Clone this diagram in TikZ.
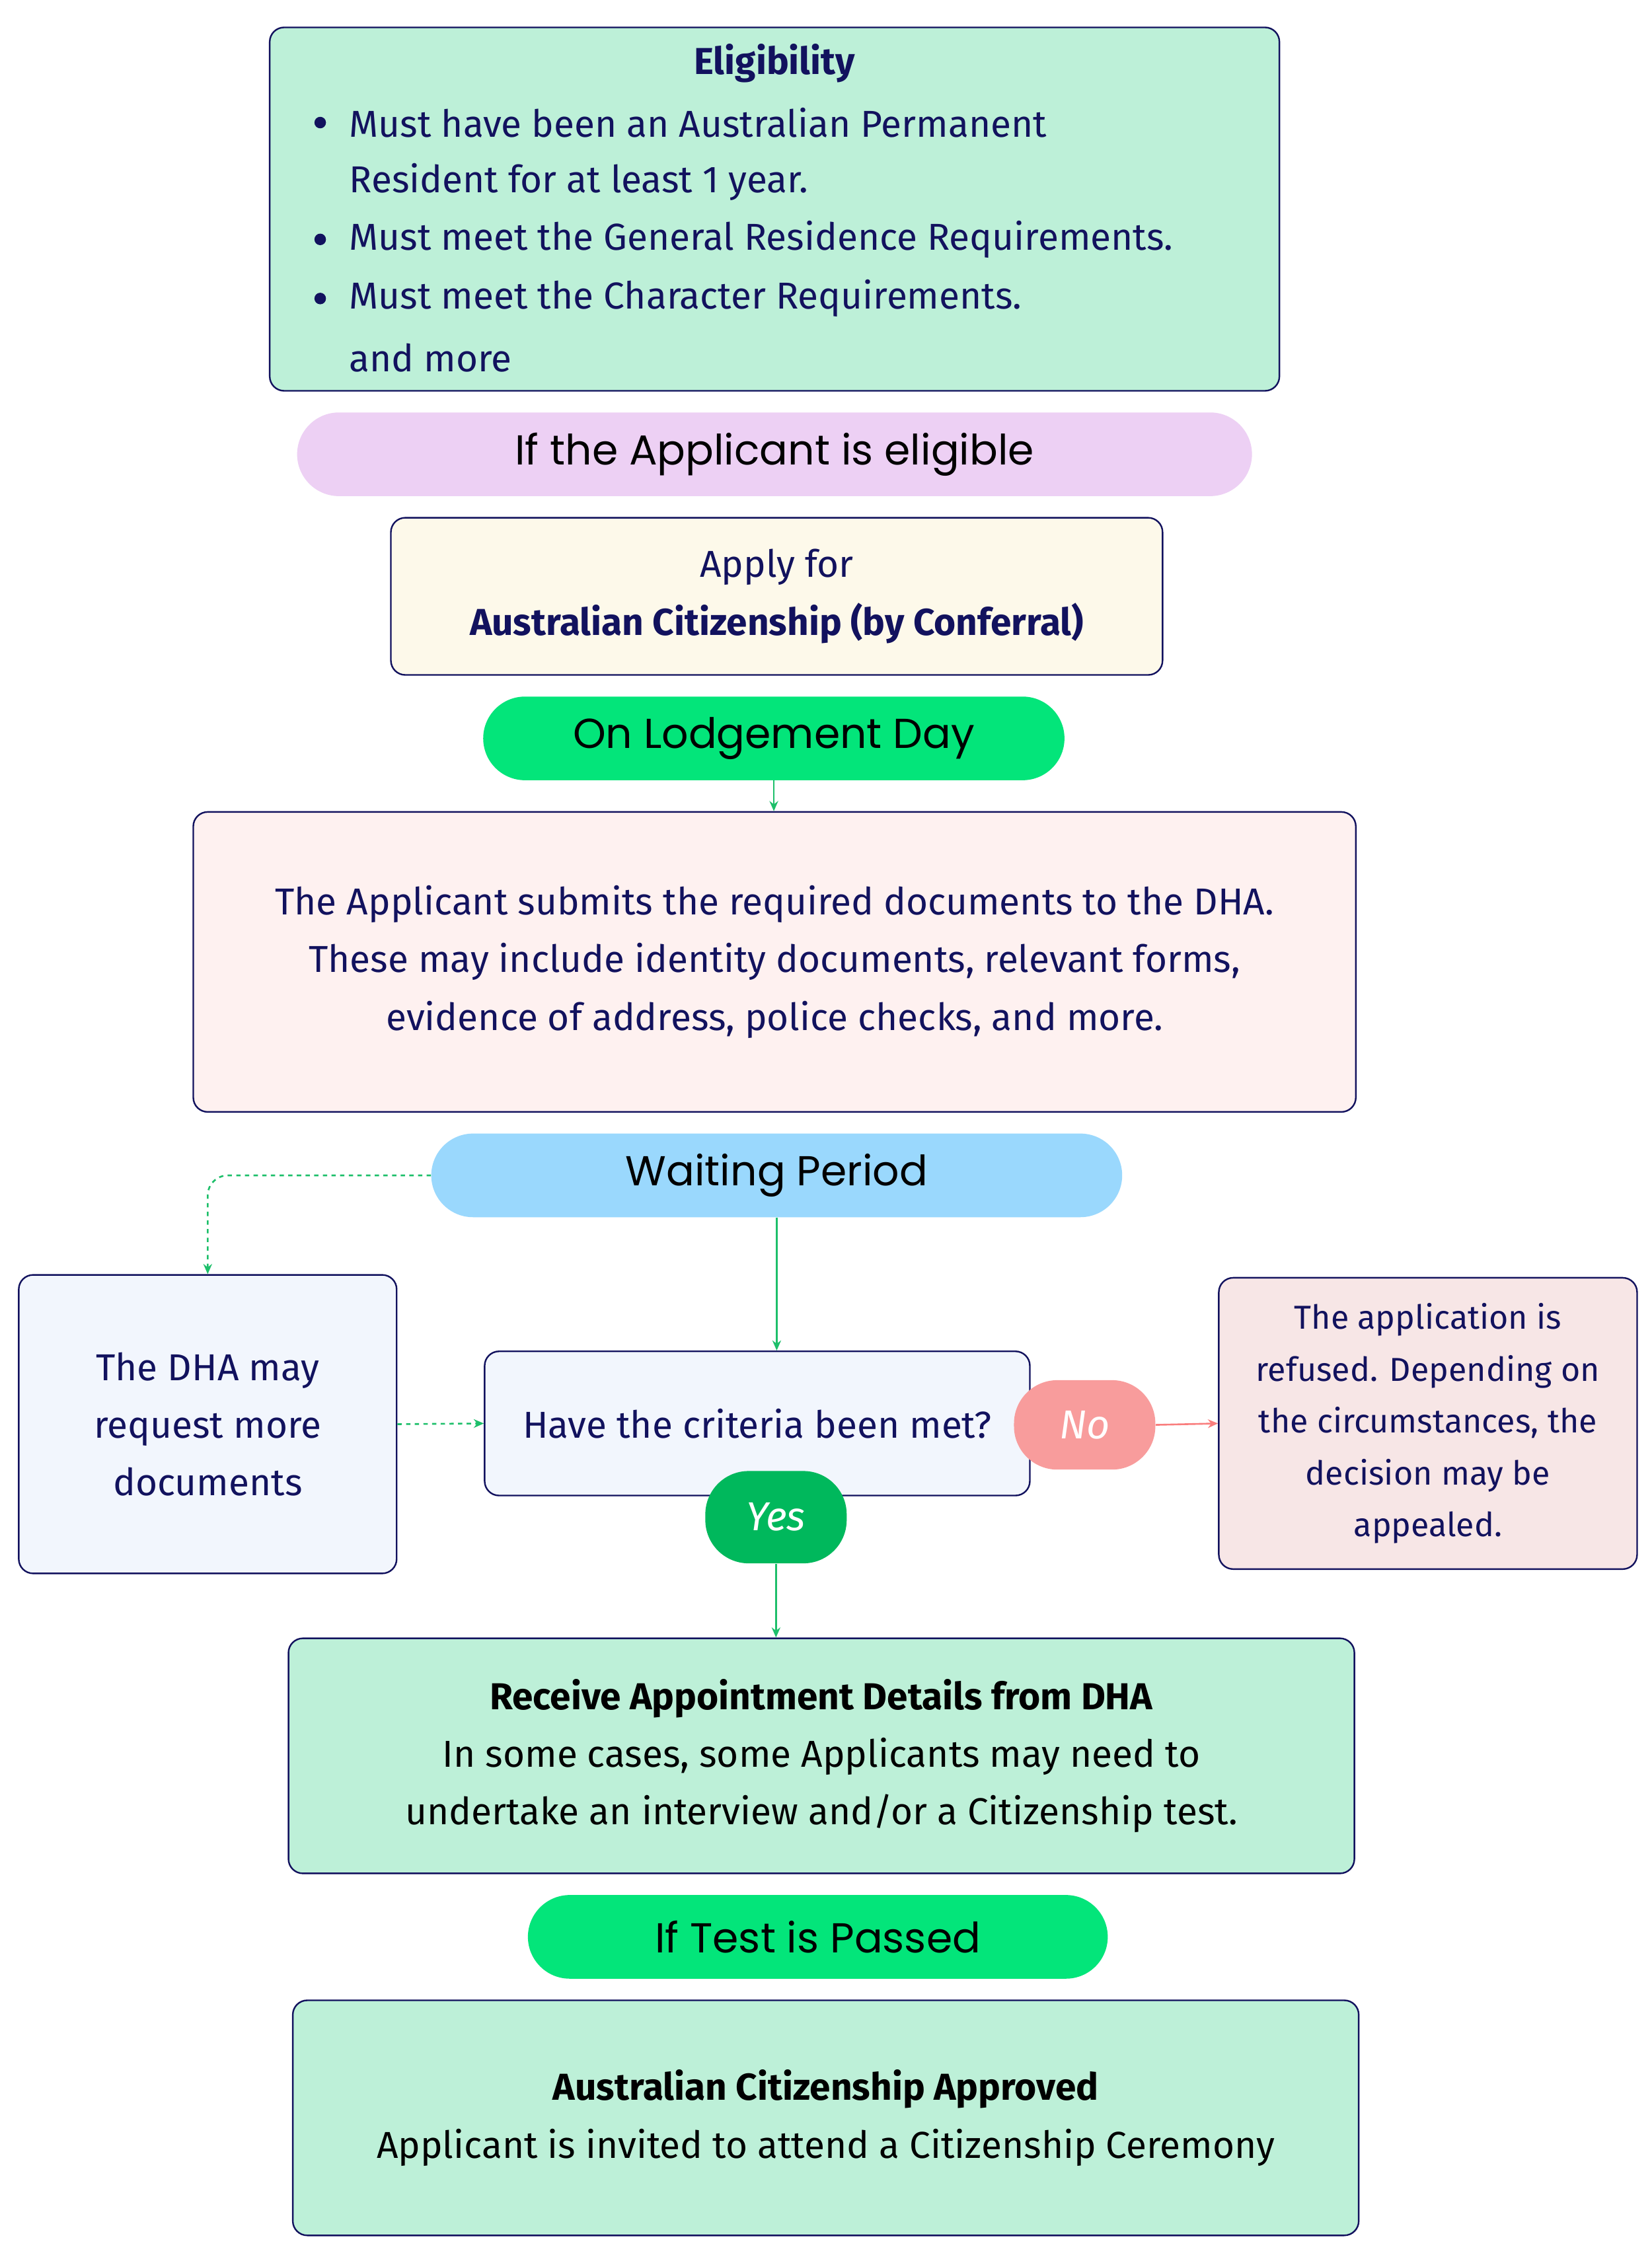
\documentclass[tikz,border=0pt]{standalone}
\usepackage{fontspec}
\setmainfont{Fira Sans}
\newfontfamily\handf{Poppins}
\usetikzlibrary{arrows.meta}
\definecolor{navy}{HTML}{12125E}
\definecolor{mint}{HTML}{BDF0D8}
\definecolor{lila}{HTML}{EDD0F4}
\definecolor{cream}{HTML}{FDF9EA}
\definecolor{vgreen}{HTML}{03E57A}
\definecolor{pinkbg}{HTML}{FEF1F0}
\definecolor{sky}{HTML}{9AD8FD}
\definecolor{paleblue}{HTML}{F2F6FD}
\definecolor{nored}{HTML}{F89C9C}
\definecolor{refbg}{HTML}{F7E6E6}
\definecolor{yesg}{HTML}{00B85C}
\definecolor{lineg}{HTML}{1DBF6A}
\begin{document}
\begin{tikzpicture}[x=1pt,y=-1pt,
  box/.style={draw=navy,line width=1.1pt,rounded corners=10pt,inner sep=0pt,align=center,text=navy,
    font=\fontsize{26}{40}\selectfont},
  pill/.style={rounded corners=29pt,inner sep=0pt,align=center,text=black,
    font=\handf\fontsize{29}{36}\selectfont},
  tag/.style={rounded corners=30pt,inner sep=0pt,text=white,font=\itshape\fontsize{28}{34}\selectfont},
  ln/.style={text=navy,font=\fontsize{26}{40}\selectfont,inner sep=0pt,anchor=west},
  arr/.style={-{Stealth[length=7pt,width=6pt]},line width=1.2pt,lineg}]
\useasboundingbox[fill=white] (0,0) rectangle (1145,1565);
\node[box,fill=mint,minimum width=700pt,minimum height=252pt] (elig) at (537,145) {};
\node[text=navy,font=\bfseries\fontsize{26}{40}\selectfont] (et) at (537,44) {Eligibility};
\node[ln] (e1) at (242,85) {Must have been an Australian Permanent};
\node[ln] (e2) at (242,126) {Resident for at least 1 year.};
\node[ln] (e3) at (242,166) {Must meet the General Residence Requirements.};
\node[ln] (e4) at (242,207) {Must meet the Character Requirements.};
\node[ln] (e5) at (242,248) {and more};
\foreach \yy/\nm in {85/b1,166/b2,207/b3} \fill[navy] (222,\yy) circle (4pt);
\node[pill,fill=lila,minimum width=662pt,minimum height=58pt] (p1) at (537,315) {If the Applicant is eligible};
\node[box,fill=cream,minimum width=535pt,minimum height=109pt] (apply) at (538.5,413.5) {Apply for\\\textbf{Australian Citizenship (by Conferral)}};
\node[pill,fill=vgreen,minimum width=403pt,minimum height=58pt] (p2) at (536.5,512) {On Lodgement Day};
\node[box,fill=pinkbg,minimum width=806pt,minimum height=208pt] (sub) at (537,667) {The Applicant submits the required documents to the DHA.\\These may include identity documents, relevant forms,\\evidence of address, police checks, and more.};
\node[pill,fill=sky,minimum width=479pt,minimum height=58pt] (wait) at (538.5,815) {Waiting Period};
\node[box,fill=paleblue,minimum width=262pt,minimum height=207pt] (left) at (144,987.5) {The DHA may\\request more\\documents};
\node[box,fill=paleblue,minimum width=378pt,minimum height=100pt] (crit) at (525,987) {Have the criteria been met?};
\node[box,fill=refbg,minimum width=290pt,minimum height=202pt,font=\fontsize{23}{36}\selectfont] (ref) at (990,987) {The application is\\refused. Depending on\\the circumstances, the\\decision may be\\appealed.};
\node[box,fill=mint,minimum width=739pt,minimum height=163pt,text=black] (appt) at (569.5,1217.5) {\textbf{Receive Appointment Details from DHA}\\In some cases, some Applicants may need to\\undertake an interview and/or a Citizenship test.};
\node[pill,fill=vgreen,minimum width=402pt,minimum height=58pt] (p3) at (567,1343) {If Test is Passed};
\node[box,fill=mint,minimum width=739pt,minimum height=163pt,text=black] (fin) at (572.5,1468.5) {\textbf{Australian Citizenship Approved}\\Applicant is invited to attend a Citizenship Ceremony};
\draw[arr] (p2.south) -- (sub.north -| p2.south);
\draw[arr] (wait.south) -- (crit.north -| wait.south);
\draw[arr,dashed] (wait.west) -- (160,815) [rounded corners=14pt] -- (144,815) -- (left.north);
\draw[arr,dashed] (left.east) -- (crit.west);
\node[tag,fill=nored,minimum width=98pt,minimum height=62pt] (no) at (752,988) {No};
\draw[arr,nored!80!red] (no.east) -- (ref.west);
\node[tag,fill=yesg,minimum width=98pt,minimum height=64pt] (yes) at (538,1052) {Yes};
\draw[arr] (yes.south) -- (appt.north -| yes.south);
\end{tikzpicture}
\end{document}
